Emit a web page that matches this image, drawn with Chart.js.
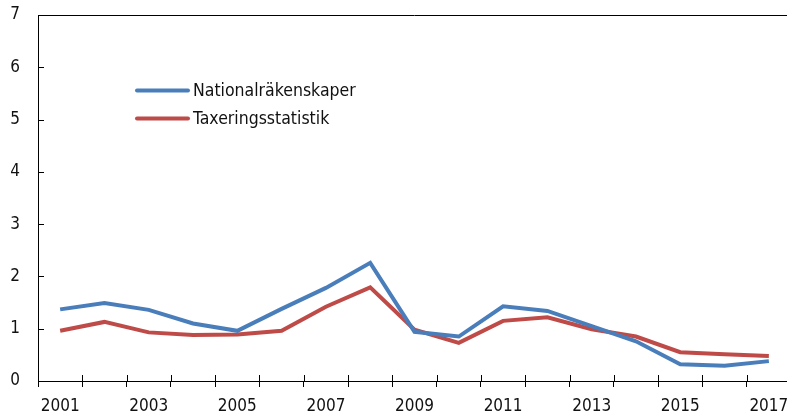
<!DOCTYPE html>
<html>
<head>
<meta charset="utf-8">
<script src="https://cdn.jsdelivr.net/npm/chart.js@4"></script>
<style>
  html, body { margin: 0; padding: 0; background: #fff; overflow: hidden; }
  #wrap { width: 792px; height: 419px; }
</style>
</head>
<body>
<div id="wrap"><canvas id="chart" width="792" height="419"></canvas></div>
<script>
// Years on the x axis
const years = ['2001', '2002', '2003', '2004', '2005', '2006', '2007', '2008', '2009',
    '2010', '2011', '2012', '2013', '2014', '2015', '2016', '2017'];

const nationalAccounts = [1.37, 1.49, 1.36, 1.10, 0.96, 1.38, 1.78, 2.26, 0.94,
    0.85, 1.43, 1.34, 1.05, 0.76, 0.32, 0.29, 0.38];
const taxStats = [0.96, 1.13, 0.93, 0.88, 0.89, 0.96, 1.42, 1.79, 0.98,
    0.73, 1.15, 1.22, 0.99, 0.85, 0.55, 0.51, 0.48];

const seriesLabels = ['Nationalräkenskaper', 'Taxeringsstatistik'];
const seriesColors = ['#4a7ebb', '#be4b48'];

const FONT = '"DejaVu Sans Condensed", "Liberation Sans Narrow", sans-serif';

// Draws crossing x ticks, inward y ticks, top border and the floating legend
const decorations = {
    id: 'decorations',
    afterDraw(chart) {
        const ctx = chart.ctx;
        const area = chart.chartArea;
        const xScale = chart.scales.x;
        const yScale = chart.scales.y;
        ctx.save();
        ctx.strokeStyle = '#000';
        ctx.lineWidth = 1;

        // top border
        ctx.beginPath();
        ctx.moveTo(area.left, area.top + 0.5);
        ctx.lineTo(area.right, area.top + 0.5);
        ctx.stroke();

        // upper half of x ticks (between categories)
        const n = years.length;
        for (let i = 1; i <= n; i++) {
            const x = Math.round(xScale.getPixelForValue(i - 0.5)) + 0.5;
            ctx.beginPath();
            ctx.moveTo(x, area.bottom - 6);
            ctx.lineTo(x, area.bottom);
            ctx.stroke();
        }

        // inward y ticks
        yScale.ticks.forEach(t => {
            const y = Math.round(yScale.getPixelForValue(t.value)) + 0.5;
            ctx.beginPath();
            ctx.moveTo(area.left, y);
            ctx.lineTo(area.left + 6, y);
            ctx.stroke();
        });

        // legend
        ctx.font = '17.5px ' + FONT;
        ctx.textBaseline = 'middle';
        ctx.fillStyle = '#111';
        chart.data.datasets.forEach((ds, i) => {
            const y = 90.5 + i * 28;
            ctx.strokeStyle = ds.borderColor;
            ctx.lineWidth = 4;
            ctx.lineCap = 'round';
            ctx.beginPath();
            ctx.moveTo(137, y);
            ctx.lineTo(188, y);
            ctx.stroke();
            ctx.fillText(ds.label, 193, y + 1);
        });
        ctx.restore();
    }
};

new Chart(document.getElementById('chart'), {
    type: 'line',
    data: {
        labels: years,
        datasets: [
            {
                label: seriesLabels[0],
                data: nationalAccounts,
                borderColor: seriesColors[0],
                backgroundColor: seriesColors[0],
                borderWidth: 4,
                pointRadius: 0,
                tension: 0
            },
            {
                label: seriesLabels[1],
                data: taxStats,
                borderColor: seriesColors[1],
                backgroundColor: seriesColors[1],
                borderWidth: 4,
                pointRadius: 0,
                tension: 0
            }
        ]
    },
    options: {
        responsive: false,
        animation: false,
        layout: { padding: { top: 15, right: 1, left: 0, bottom: 0 } },
        plugins: {
            legend: { display: false },
            tooltip: { enabled: false }
        },
        scales: {
            x: {
                offset: true,
                grid: {
                    offset: true,
                    drawOnChartArea: false,
                    drawTicks: true,
                    tickLength: 6,
                    color: '#000'
                },
                border: { display: true, color: '#000', width: 1 },
                ticks: {
                    autoSkip: false,
                    maxRotation: 0,
                    padding: 9,
                    color: '#111',
                    font: { family: FONT, size: 17 },
                    callback: (v, i) => (i % 2 === 0 ? years[i] : '')
                },
                afterFit: s => {
                    s.height = 38;
                    s.paddingLeft = 0;
                    s.paddingRight = 0;
                }
            },
            y: {
                min: 0,
                max: 7,
                grid: { drawOnChartArea: false, drawTicks: false },
                border: { display: true, color: '#000', width: 1 },
                ticks: {
                    stepSize: 1,
                    padding: 18,
                    color: '#111',
                    font: { family: FONT, size: 17 }
                },
                afterFit: s => {
                    s.width = 38;
                    s.paddingTop = 0;
                    s.paddingBottom = 0;
                }
            }
        }
    },
    plugins: [decorations]
});
</script>
</body>
</html>
